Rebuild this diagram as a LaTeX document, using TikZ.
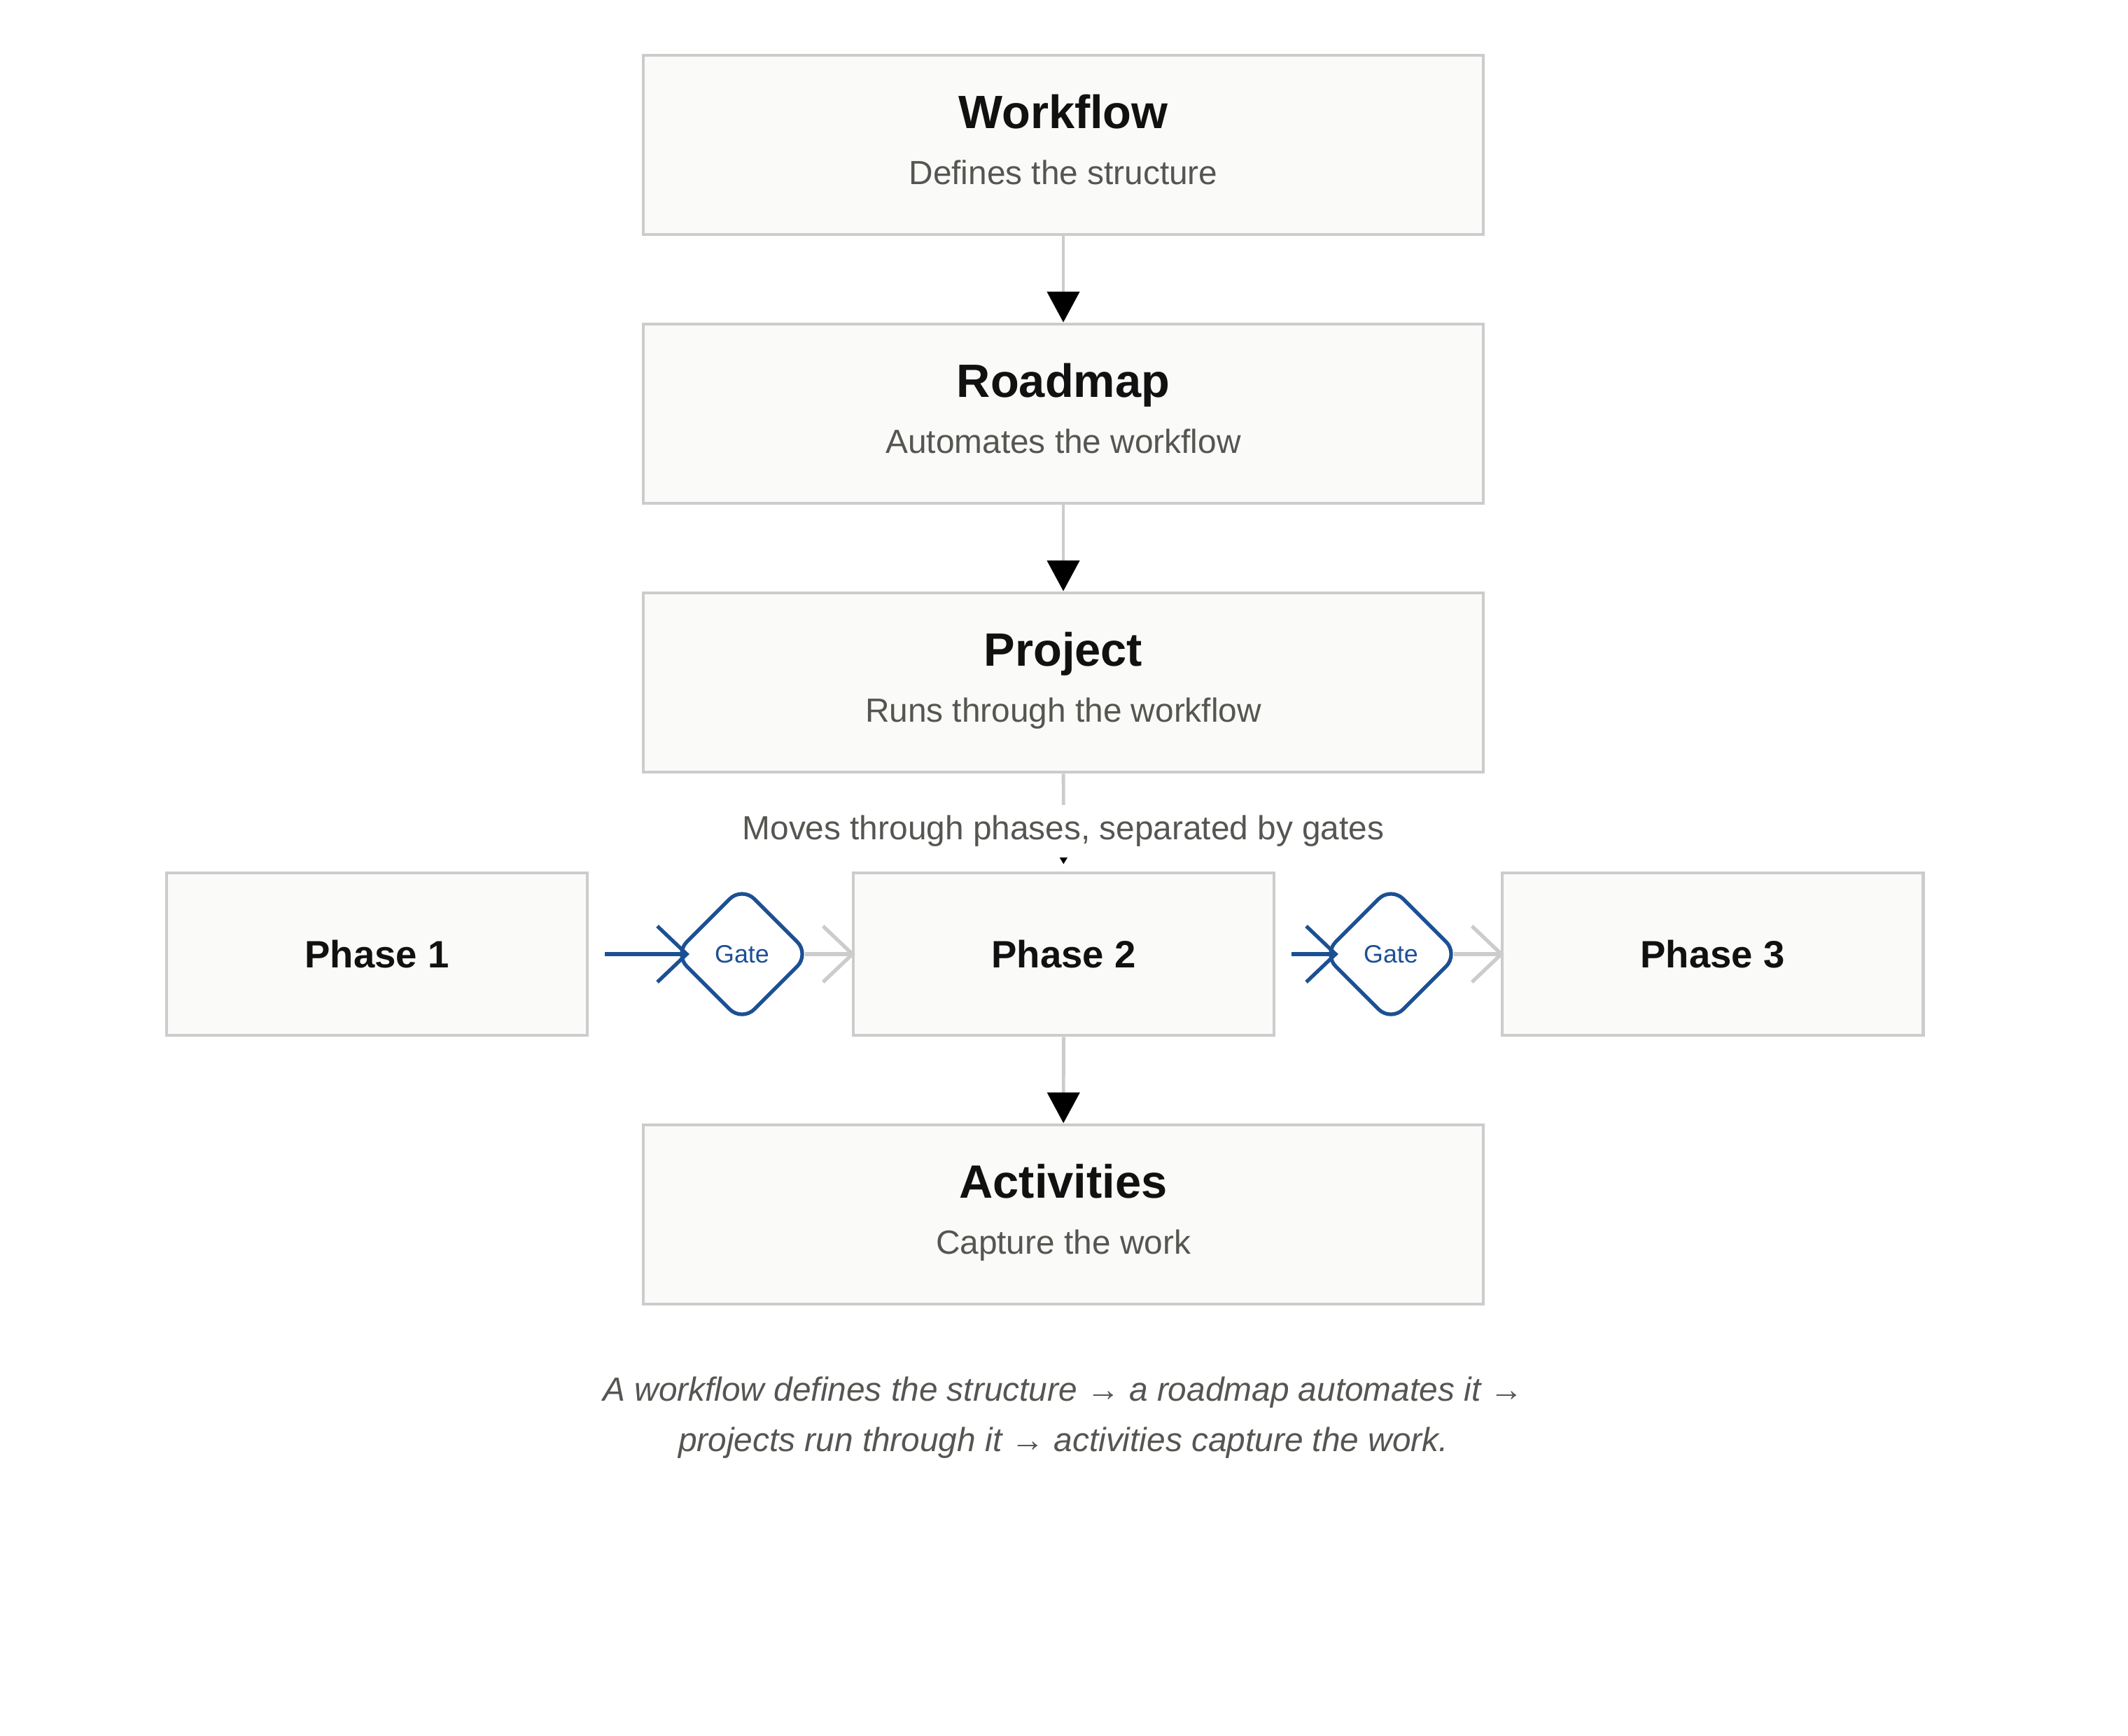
\documentclass[tikz,border=0pt]{standalone}
\usepackage{fontspec}
\setmainfont{Liberation Sans}
\usetikzlibrary{arrows.meta,shapes.geometric}
\definecolor{panel}{RGB}{250,250,248}
\definecolor{rim}{RGB}{204,204,204}
\definecolor{ink}{RGB}{17,17,17}
\definecolor{slate}{RGB}{85,85,82}
\definecolor{gateblue}{RGB}{28,80,148}
\tikzset{
  >={Triangle[length=4.4mm,width=4.6mm,color=black]},
  stage/.style={draw=rim,fill=panel,line width=1.4pt,minimum width=12cm,minimum height=2.56cm,
    align=center,text=slate,text depth=4.5pt,font=\fontsize{13.6}{22.6}\selectfont},
  phase/.style={draw=rim,fill=panel,line width=1.4pt,minimum width=6.01cm,minimum height=2.32cm,
    text=ink,font=\fontsize{15.5}{18}\selectfont\bfseries},
  gate/.style={diamond,draw=gateblue,fill=white,line width=1.5pt,rounded corners=2.5mm,
    minimum width=1.95cm,minimum height=1.95cm,inner sep=0pt,text=gateblue,font=\fontsize{10.2}{12}\selectfont},
  flow/.style={->,draw=rim,line width=1.4pt},
  barb/.style={draw=#1,line width=1.5pt,-{Straight Barb[length=4.2mm,width=8mm]}},
  barb/.default=rim,
  note/.style={fill=white,text=slate,inner sep=0pt,minimum height=0.75cm,font=\fontsize{13.6}{16}\selectfont},
  caption/.style={align=center,text=slate,font=\fontsize{13.6}{20.5}\selectfont\itshape},
}
\newcommand{\stagetitle}[1]{{\fontsize{19}{22}\selectfont\bfseries\color{ink}#1}}

\begin{document}
\begin{tikzpicture}
  \useasboundingbox (0,0) rectangle (30.4,-24.8);
  % stages down the middle
  \foreach \n/\y/\t/\s in {wf/-2.07/Workflow/Defines the structure,
      rm/-5.91/Roadmap/Automates the workflow,
      prj/-9.75/Project/Runs through the workflow,
      act/-17.35/Activities/Capture the work}
    \node[stage] (\n) at (15.19,\y) {\stagetitle{\t}\\\s};
  % phases row
  \foreach \n/\x/\t in {ph1/5.385/Phase 1,ph2/15.195/Phase 2,ph3/24.465/Phase 3}
    \node[phase] (\n) at (\x,-13.63) {\t};
  \foreach \a/\b in {wf/rm,rm/prj,ph2/act} \draw[flow] (\a) -- (\b);
  \draw[flow,-{Triangle[length=1mm,width=1.1mm,color=black]},shorten >=1mm] (prj) -- (ph2);
  \node[note] (mv) at (15.19,-11.875) {Moves through phases, separated by gates};
  % gates between phases
  \foreach \g/\x/\l/\r in {g1/10.60/ph1/ph2,g2/19.87/ph2/ph3}{
    \node[gate] (\g) at (\x,-13.63) {Gate};
    \draw[barb=gateblue,shorten >=-2.5mm] ([xshift=2.3mm]\l.east) -- (\g.west);
    \draw[barb,shorten <=-1mm,shorten >=-0.5mm] (\g.east) -- (\r.west);
  }
  \node[caption] (cap) at (15.19,-20.25) {A workflow defines the structure → a roadmap automates it →\\
    projects run through it → activities capture the work.};
\end{tikzpicture}
\end{document}
